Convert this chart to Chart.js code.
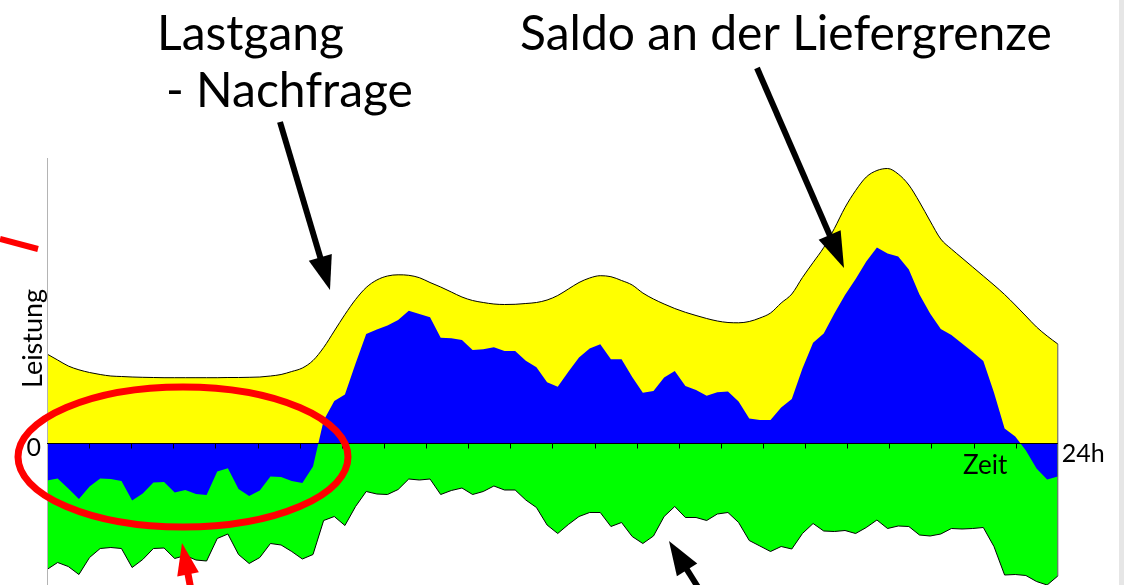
<!DOCTYPE html>
<html lang="de">
<head>
<meta charset="utf-8">
<title>Lastgang und Saldo an der Liefergrenze</title>
<script src="https://cdn.jsdelivr.net/npm/chart.js@4.4.0/dist/chart.umd.min.js"></script>
<style>
  html, body { margin: 0; padding: 0; background: #fff; overflow: hidden; }
  #wrap { position: relative; width: 1124px; height: 585px; overflow: hidden; }
</style>
</head>
<body>
<div id="wrap"><canvas id="chart" width="1124" height="620"></canvas></div>
<script>
// 96 Viertelstundenwerte ueber 24h (Leistung, willkuerliche Einheit)
const lastgang = [
  89.5, 83.5, 77.5, 73.7, 71, 69, 67.5, 67, 66.5, 66.2,
  66, 65.8, 65.8, 65.8, 65.8, 65.8, 65.8, 66, 66, 66.2,
  66.5, 67.5, 69, 72, 75.5, 83, 96, 112.5, 129, 144,
  156, 163.5, 167.5, 168.7, 168.2, 165.8, 161, 156.5, 151.5, 146.5,
  143, 141, 139.5, 139, 139.2, 140, 141, 143.5, 148, 154.5,
  161, 165.5, 167.8, 166.8, 163, 158.5, 150.5, 144.5, 139.5, 135,
  131.2, 128, 125, 122.5, 121, 120.7, 122, 125.5, 130.5, 140.5,
  149.5, 166, 181, 196, 215, 236, 253, 266.5, 273, 275,
  269.5, 258.5, 241.5, 222.5, 204.5, 194.5, 185.5, 176.5, 167.5, 158.5,
  149, 138.5, 127.5, 116.5, 107.5, 99.5
];
const erzeugung = [
  -126, -119, -123, -131, -114, -105, -104, -105, -124, -116,
  -105, -104.5, -115, -112, -116.5, -117.5, -95, -90.5, -111, -120,
  -114, -100, -101.5, -108, -115.5, -111, -77, -73, -82, -63,
  -48, -50.5, -51, -46, -35.5, -36.5, -35.5, -51, -47, -44.5,
  -51, -48, -42.5, -46.5, -46.5, -56.5, -64, -81.5, -90, -81,
  -73, -69, -69, -83, -79, -93, -100, -92.5, -73, -63,
  -74, -74, -77, -70.5, -69, -79, -97, -102.5, -108, -103,
  -105.5, -90, -80, -87.5, -88, -87, -90, -84, -76.5, -85,
  -82.5, -83, -91.5, -92.5, -90.5, -85, -85.5, -85, -84, -103,
  -131.5, -131, -132, -138, -141.5, -132.5
];
const saldo = [
  -37, -35, -45, -55.5, -43, -35, -35.5, -37.5, -57, -50,
  -39, -38.5, -49, -46.5, -50.5, -51.5, -28, -24.8, -45.5, -52.5,
  -47, -33, -33.5, -37.5, -39.5, -23, 23, 42.5, 49, 80,
  109.5, 114, 118, 123.5, 132.8, 129.5, 126.2, 105.8, 105.2, 103.5,
  93.5, 94.2, 96.2, 92.5, 92.5, 82.8, 76.2, 61.2, 56.8, 71.8,
  86, 95, 99.2, 84.2, 84.2, 66.5, 50.8, 52.5, 66, 72.5,
  57.5, 53.5, 47.8, 51.2, 52, 42, 25, 23.5, 23.5, 36,
  44.5, 75, 100.8, 110, 130, 148.5, 164.5, 182, 196, 190,
  187, 174, 149, 130, 114.5, 108.5, 100, 91.5, 82.5, 51,
  15, 7, -7, -25, -36, -33
];
const stunden = 24;
const nullLabel = "0";
const endLabel = "24h";
const yTitel = "Leistung";
const xTitel = "Zeit";

const schrift = "Lato, 'Noto Sans', sans-serif";

function pfeil(ctx, x1, y1, x2, y2, farbe, breite, kopfLaenge, kopfBreite) {
  const w = Math.atan2(y2 - y1, x2 - x1);
  const bx = x2 - kopfLaenge * Math.cos(w);
  const by = y2 - kopfLaenge * Math.sin(w);
  ctx.save();
  ctx.strokeStyle = farbe;
  ctx.fillStyle = farbe;
  ctx.lineWidth = breite;
  ctx.lineCap = "butt";
  ctx.beginPath();
  ctx.moveTo(x1, y1);
  ctx.lineTo(bx + Math.cos(w) * 2, by + Math.sin(w) * 2);
  ctx.stroke();
  ctx.beginPath();
  ctx.moveTo(x2, y2);
  ctx.lineTo(bx + kopfBreite * Math.sin(w), by - kopfBreite * Math.cos(w));
  ctx.lineTo(bx - kopfBreite * Math.sin(w), by + kopfBreite * Math.cos(w));
  ctx.closePath();
  ctx.fill();
  ctx.restore();
}

const deko = {
  id: "deko",
  beforeDraw(chart) {
    const ctx = chart.ctx;
    ctx.save();
    ctx.fillStyle = "#fff";
    ctx.fillRect(0, 0, chart.width, chart.height);
    ctx.fillStyle = "#e6e6e6";
    ctx.fillRect(1119, 0, 5, chart.height);
    ctx.restore();
  },
  afterDatasetsDraw(chart) {
    const ctx = chart.ctx;
    const x = chart.scales.x, y = chart.scales.y;
    const area = chart.chartArea;
    const y0 = Math.round(y.getPixelForValue(0)) + 0.5;
    const n = lastgang.length - 1;
    ctx.save();
    // y-Achse
    ctx.strokeStyle = "#b4b4b4";
    ctx.lineWidth = 1;
    ctx.beginPath();
    ctx.moveTo(area.left + 0.5, area.top);
    ctx.lineTo(area.left + 0.5, area.bottom);
    ctx.stroke();
    // rechter Rand der Flaechen
    ctx.strokeStyle = "#555";
    ctx.beginPath();
    ctx.moveTo(area.right, y.getPixelForValue(lastgang[n]));
    ctx.lineTo(area.right, y.getPixelForValue(erzeugung[n]));
    ctx.stroke();
    // Nulllinie mit Stundenstrichen
    ctx.strokeStyle = "#000";
    ctx.beginPath();
    ctx.moveTo(area.left, y0);
    ctx.lineTo(area.right, y0);
    for (let h = 1; h < stunden; h++) {
      const px = Math.round(x.getPixelForValue(h * n / stunden)) + 0.5;
      ctx.moveTo(px, y0);
      ctx.lineTo(px, y0 + 5);
    }
    ctx.stroke();
    // Achsenbeschriftung
    ctx.fillStyle = "#000";
    ctx.font = "25px " + schrift;
    ctx.textBaseline = "alphabetic";
    ctx.textAlign = "right";
    ctx.fillText(nullLabel, area.left - 6, y0 + 12);
    ctx.textAlign = "left";
    ctx.fillText(endLabel, area.right + 4, y0 + 18);
    ctx.font = "26px " + schrift;
    ctx.fillText(xTitel, 963, y0 + 30);
    ctx.font = "27px " + schrift;
    ctx.translate(42, 388);
    ctx.rotate(-Math.PI / 2);
    ctx.fillText(yTitel, 0, 0);
    ctx.restore();
  },
  afterDraw(chart) {
    const ctx = chart.ctx;
    ctx.save();
    ctx.fillStyle = "#000";
    ctx.font = "48px " + schrift;
    ctx.textAlign = "left";
    ctx.textBaseline = "alphabetic";
    ctx.fillText("Lastgang", 157, 50);
    ctx.fillText("- Nachfrage", 166, 107);
    ctx.fillText("Saldo an der Liefergrenze", 520, 50);
    ctx.restore();

    pfeil(ctx, 280, 122, 330, 290, "#000", 6, 34, 12);
    pfeil(ctx, 757, 68, 844, 268, "#000", 6, 36, 12);
    pfeil(ctx, 701, 592, 669, 541, "#000", 6, 34, 12);

    ctx.save();
    ctx.strokeStyle = "#ff0000";
    ctx.lineWidth = 7;
    ctx.beginPath();
    ctx.ellipse(183, 457, 165, 70, 0, 0, Math.PI * 2);
    ctx.stroke();
    ctx.lineWidth = 6;
    ctx.beginPath();
    ctx.moveTo(0, 239);
    ctx.lineTo(38, 249);
    ctx.stroke();
    ctx.restore();
    pfeil(ctx, 192, 595, 182, 543, "#ff0000", 7, 32, 11);
  }
};

new Chart(document.getElementById("chart"), {
  type: "line",
  data: {
    labels: lastgang.map((_, i) => i),
    datasets: [
      {
        label: "Saldo an der Liefergrenze",
        data: saldo,
        backgroundColor: "#0000ff",
        borderWidth: 0,
        borderColor: "rgba(0,0,0,0)",
        fill: "origin",
        pointRadius: 0,
        order: 1
      },
      {
        label: "Erzeugung",
        data: erzeugung,
        backgroundColor: "#00ff00",
        borderColor: "#000",
        borderWidth: 1,
        fill: "origin",
        pointRadius: 0,
        order: 2
      },
      {
        label: "Lastgang - Nachfrage",
        data: lastgang,
        backgroundColor: "#ffff00",
        borderColor: "#000",
        borderWidth: 1,
        fill: "origin",
        pointRadius: 0,
        cubicInterpolationMode: "monotone",
        order: 3
      }
    ]
  },
  options: {
    responsive: false,
    animation: false,
    layout: { padding: { left: 47, right: 66.2, top: 158, bottom: 20 } },
    plugins: {
      legend: { display: false },
      tooltip: { enabled: false }
    },
    scales: {
      x: { display: false, offset: false },
      y: { display: false, min: -156.5, max: 285.5 }
    }
  },
  plugins: [deko]
});
</script>
</body>
</html>
